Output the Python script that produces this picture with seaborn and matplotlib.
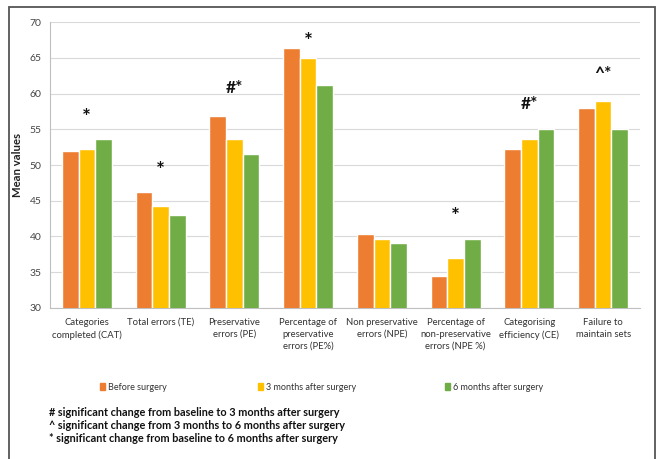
import matplotlib
matplotlib.use("Agg")
import matplotlib.pyplot as plt
import matplotlib.patches as mpatches
import seaborn as sns
import pandas as pd

categories = [
    "Categories\ncompleted (CAT)",
    "Total errors (TE)",
    "Preservative\nerrors (PE)",
    "Percentage of\npreservative\nerrors (PE%)",
    "Non preservative\nerrors (NPE)",
    "Percentage of\nnon-preservative\nerrors (NPE %)",
    "Categorising\nefficiency (CE)",
    "Failure to\nmaintain sets",
]
series_names = ["Before surgery", "3 months after surgery", "6 months after surgery"]
before = [51.9, 46.2, 56.9, 66.3, 40.3, 34.5, 52.2, 58.0]
three_months = [52.3, 44.3, 53.7, 64.9, 39.6, 37.0, 53.7, 59.0]
six_months = [53.7, 43.0, 51.6, 61.2, 39.1, 39.6, 55.1, 55.0]
marks = ["*", "*", "#*", "*", "", "*", "#*", "^*"]
mark_y = [56.8, 49.4, 61.0, 67.5, 0, 43.0, 58.7, 62.9]
footnotes = [
    "# significant change from baseline to 3 months after surgery",
    "^ significant change from 3 months to 6 months after surgery",
    "* significant change from baseline to 6 months after surgery",
]
colors = ["#ED7D31", "#FFC000", "#70AD47"]

rows = []
for cat, a, b, c in zip(categories, before, three_months, six_months):
    rows.append((cat, series_names[0], a))
    rows.append((cat, series_names[1], b))
    rows.append((cat, series_names[2], c))
df = pd.DataFrame(rows, columns=["measure", "time", "value"])

sns.set_style("white")
plt.rcParams["font.family"] = ["Lato", "DejaVu Sans"]

fig = plt.figure(figsize=(6.57, 4.59), dpi=100)
ax = fig.add_axes([0.0761, 0.329, 0.898, 0.623])

sns.barplot(data=df, x="measure", y="value", hue="time", palette=colors,
            order=categories, hue_order=series_names, width=0.68, gap=0,
            errorbar=None, saturation=1, ax=ax, legend=False, zorder=3)

ax.set_ylim(30, 70)
ax.set_xlim(-0.5, len(categories) - 0.5)
ax.set_yticks(range(30, 71, 5))
ax.yaxis.grid(True, color="#D9D9D9", linewidth=0.8, zorder=0)
ax.set_axisbelow(True)
ax.set_xlabel("")
ax.set_ylabel("Mean values", fontsize=8.2, fontweight="bold", color="#222222", labelpad=5)
ax.tick_params(axis="y", labelsize=7.5, colors="#444444", length=3, width=0.6, color="#BFBFBF", pad=3)
ax.tick_params(axis="x", labelsize=6.8, colors="#333333", length=0, pad=7)
for lbl in ax.get_xticklabels():
    lbl.set_linespacing(1.45)
for s in ["top", "right"]:
    ax.spines[s].set_visible(False)
for s in ["left", "bottom"]:
    ax.spines[s].set_color("#BFBFBF")
    ax.spines[s].set_linewidth(0.8)

# significance markers above each group
for i, (m, y) in enumerate(zip(marks, mark_y)):
    if m:
        size = 15 if m == "*" else 12.5
        ax.text(i, y, m, ha="center", va="center_baseline", fontsize=size,
                fontweight="bold", color="#111111")

# legend entries spread across the row below the axis labels
legend_x = [100 / 657, 258 / 657, 445 / 657]
for c, n, lx in zip(colors, series_names, legend_x):
    fig.legend(handles=[mpatches.Patch(color=c, label=n)], loc="center left",
               bbox_to_anchor=(lx, 1 - 387 / 459), frameon=False, fontsize=6.5,
               handlelength=0.55, handleheight=0.7, handletextpad=0.3,
               labelcolor="#333333", borderpad=0, borderaxespad=0)

for k, t in enumerate(footnotes):
    fig.text(49 / 657, 1 - (412 + 13.5 * k) / 459, t, ha="left", va="center",
             fontsize=7.8, fontweight="bold", color="#111111")

frame = mpatches.Rectangle((9 / 657, -0.05), 646 / 657, 1.05 - 7 / 459,
                           transform=fig.transFigure, fill=False,
                           edgecolor="#555555", linewidth=1.3, clip_on=False)
fig.patches.append(frame)

fig.savefig("out.png", dpi=100)
